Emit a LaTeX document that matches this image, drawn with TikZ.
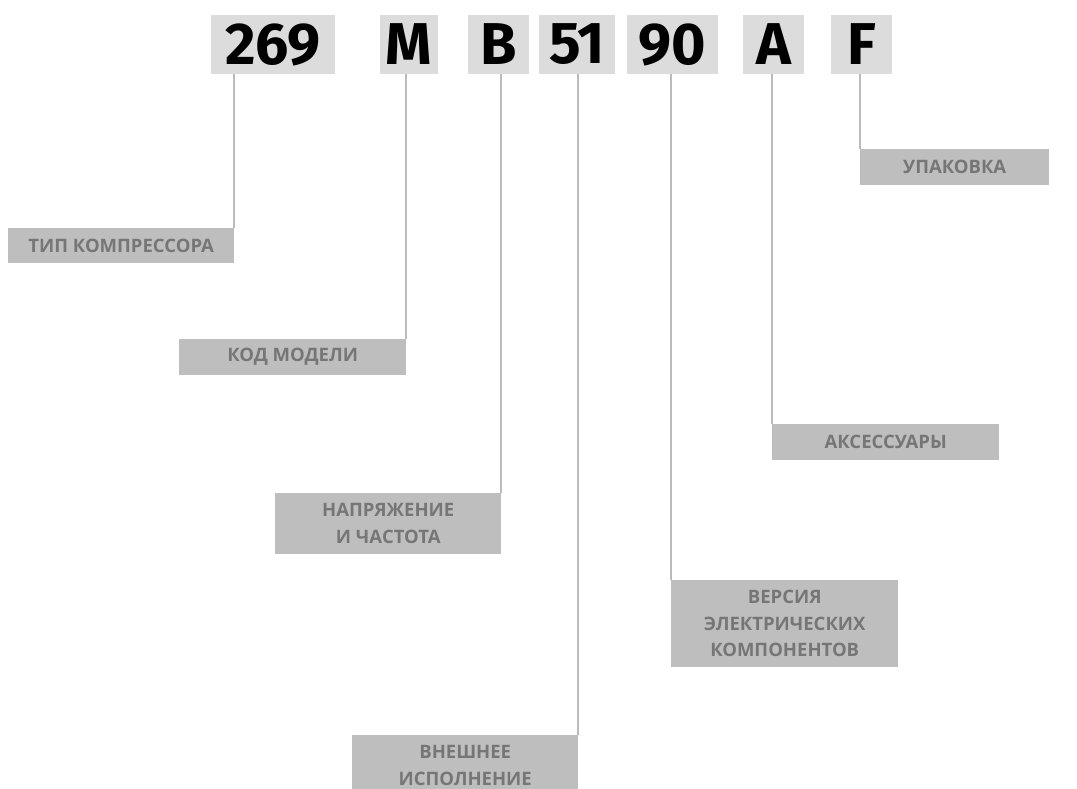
\documentclass[tikz,border=0pt]{standalone}
\usepackage{fontspec}
\setmainfont{Open Sans}
\newfontfamily\codefont{Fira Sans}
\usetikzlibrary{positioning}
\definecolor{codegray}{HTML}{DCDCDC}
\definecolor{labelgray}{HTML}{BEBEBE}
\definecolor{textgray}{HTML}{767676}
\definecolor{linegray}{HTML}{BBBBBB}

\begin{document}
\begin{tikzpicture}[x=1pt, y=-1pt,
    codenode/.style={rectangle, fill=codegray, minimum height=59pt, inner sep=0pt, font=\codefont\fontsize{59}{59}\selectfont\bfseries},
    labelnode/.style={rectangle, fill=labelgray, anchor=north west, inner sep=0pt, align=center, text=textgray, font=\fontsize{18.5}{26.5}\selectfont\bfseries},
    leader/.style={draw=linegray, line width=2pt},
]
\useasboundingbox (0,0) rectangle (1077,789);
\clip (0,0) rectangle (1077,789);
% code boxes
\node[codenode, minimum width=124pt](c269) at (273,44.5){269};
\node[codenode, minimum width=58pt](cM) at (409,44.5){M};
\node[codenode, minimum width=61pt](cB) at (498.5,44.5){B};
\node[codenode, minimum width=76pt](c51) at (577,44.5){51};
\node[codenode, minimum width=91pt](c90) at (672.5,44.5){90};
\node[codenode, minimum width=61pt](cA) at (773.5,44.5){A};
\node[codenode, minimum width=61pt](cF) at (861.5,44.5){F};
% labels
\node[labelnode, minimum width=226pt, minimum height=35pt](tip) at (8,228){ТИП КОМПРЕССОРА};
\node[labelnode, minimum width=227pt, minimum height=36pt](kod) at (179,339){КОД МОДЕЛИ};
\node[labelnode, minimum width=226pt, minimum height=61pt](nap) at (275,493){НАПРЯЖЕНИЕ\\И ЧАСТОТА};
\node[labelnode, minimum width=226pt, minimum height=61pt](vne) at (352,735){ВНЕШНЕЕ\\ИСПОЛНЕНИЕ};
\node[labelnode, minimum width=227pt, minimum height=87pt](ver) at (671,580){ВЕРСИЯ\\ЭЛЕКТРИЧЕСКИХ\\КОМПОНЕНТОВ};
\node[labelnode, minimum width=227pt, minimum height=36pt](aks) at (772,424){АКСЕССУАРЫ};
\node[labelnode, minimum width=189pt, minimum height=36pt](upa) at (860,149){УПАКОВКА};
% leaders
\draw[leader] (tip.north east) -- (tip.north east |- c269.south);
\draw[leader] (kod.north east) -- (kod.north east |- cM.south);
\draw[leader] (nap.north east) -- (nap.north east |- cB.south);
\draw[leader] (vne.north east) -- (vne.north east |- c51.south);
\draw[leader] (ver.north west) -- (ver.north west |- c90.south);
\draw[leader] (aks.north west) -- (aks.north west |- cA.south);
\draw[leader] (upa.north west) -- (upa.north west |- cF.south);
\end{tikzpicture}
\end{document}
